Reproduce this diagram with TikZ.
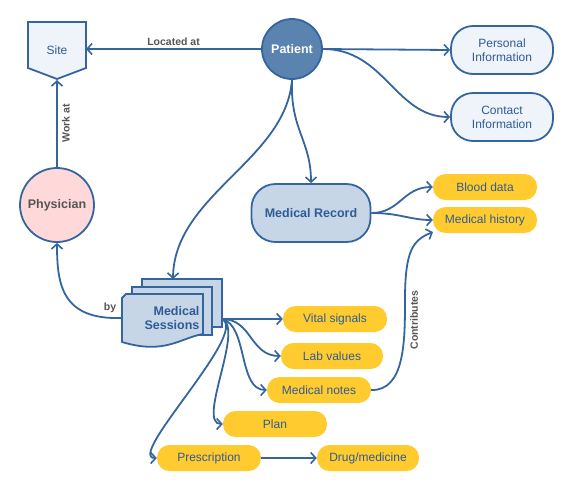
\documentclass[tikz,border=0pt]{standalone}
\usepackage{fontspec}
\setmainfont{Liberation Sans}
\usetikzlibrary{arrows.meta}
\definecolor{ln}{HTML}{34659F}
\definecolor{patfill}{HTML}{5B83B0}
\definecolor{lightfill}{HTML}{EFF3FA}
\definecolor{midfill}{HTML}{C6D6E7}
\definecolor{gold}{HTML}{FFCB2F}
\definecolor{pink}{HTML}{FFD9D9}
\definecolor{txtblue}{HTML}{2F5C94}
\definecolor{txtgray}{HTML}{555555}
\tikzset{
  conn/.style={draw=ln, line width=1.8pt, -{Straight Barb[length=5pt,width=11pt,line width=1.6pt]}},
  pill/.style={fill=gold, rounded corners=12.5pt, minimum width=104pt, minimum height=26pt, inner sep=0pt, text=txtblue, font=\fontsize{12}{14}\selectfont},
  infobox/.style={draw=ln, line width=1.8pt, fill=lightfill, rounded corners=22pt, minimum width=102pt, minimum height=48pt, inner sep=0pt, text=txtblue, align=center, font=\fontsize{12}{14}\selectfont},
  lbl/.style={text=txtgray, font=\bfseries\fontsize{10.5}{12}\selectfont, inner sep=1pt},
  docshape/.style={draw=ln, line width=1.8pt, fill=midfill}
}
\begin{document}
\begin{tikzpicture}[x=1pt,y=-1pt]
\useasboundingbox (0,0) rectangle (573,491);
% Site
\draw[docshape, fill=lightfill] (28,22) -- (86,22) -- (86,68) -- (57,79) -- (28,68) -- cycle;
\node[text=txtblue, font=\fontsize{12}{14}\selectfont] (site) at (57,50) {Site};
\coordinate (siteR) at (86,49);
\coordinate (siteB) at (57,80);
% Patient
\node[circle, draw=ln, line width=1.8pt, fill=patfill, minimum size=60pt, inner sep=0pt, text=white, font=\bfseries\fontsize{12.5}{14}\selectfont] (pat) at (292,49) {Patient};
% Physician
\node[circle, draw=ln, line width=1.8pt, fill=pink, minimum size=74pt, inner sep=0pt, text=txtgray, font=\bfseries\fontsize{12.5}{14}\selectfont] (phy) at (57,205) {Physician};
% info boxes
\node[infobox] (pers) at (502,50) {Personal\\Information};
\node[infobox] (cont) at (502,117) {Contact\\Information};
% Medical record
\node[draw=ln, line width=1.8pt, fill=midfill, rounded corners=24pt, minimum width=119pt, minimum height=58pt, inner sep=0pt, text=txtblue, font=\bfseries\fontsize{12.5}{14}\selectfont] (mr) at (311,213) {Medical Record};
% pills
\node[pill] (blood) at (485,187) {Blood data};
\node[pill] (hist) at (485,220) {Medical history};
\node[pill] (vital) at (335,319) {Vital signals};
\node[pill, minimum width=102pt] (lab) at (332,356) {Lab values};
\node[pill] (notes) at (319,390) {Medical notes};
\node[pill] (plan) at (275,424) {Plan};
\node[pill] (presc) at (209,458) {Prescription};
\node[pill, minimum width=102pt] (drug) at (368,458) {Drug/medicine};
% Medical sessions (multi-document)
\draw[docshape] (142,279) rectangle (222,327);
\draw[docshape] (132,287) rectangle (212,335);
\draw[docshape] (122,298) -- (126,294) -- (203,294) -- (203,334) .. controls (180,338) and (165,355) .. (122,342) -- cycle;
\node[text=txtblue, align=right, font=\bfseries\fontsize{12.5}{14}\selectfont] (ms) at (172,318) {Medical\\Sessions};
\coordinate (msT) at (173,279);
\coordinate (msL) at (122,318);
\coordinate (msR) at (222,319);
% connectors
\draw[conn] (pat.west) -- node[lbl, above=2pt] (locl) {Located at} (siteR);
\draw[conn] (phy.north) -- node[lbl, rotate=90, below=3pt] (workl) {Work at} (siteB);
\draw[conn] (pat.east) -- (pers.west);
\draw[conn] (pat.east) .. controls (385,49) and (395,117) .. (cont.west);
\draw[conn] (pat.south) .. controls (290,130) and (311,140) .. (mr.north);
\draw[conn] (pat.south) .. controls (286,160) and (174,195) .. (msT);
\draw[conn] (msL) .. controls (62,320) and (57,285) .. (phy.south);
\node[lbl] (byl) at (110,308) {by};
\draw[conn] (msR) -- (vital.west);
\draw[conn] (msR) .. controls (252,319) and (250,356) .. (lab.west);
\draw[conn] (msR) .. controls (248,325) and (238,390) .. (notes.west);
\draw[conn] (msR) .. controls (245,328) and (196,424) .. (plan.west);
\draw[conn] (msR) .. controls (250,332) and (125,458) .. (presc.west);
\draw[conn] (presc.east) -- (drug.west);
\draw[conn] (mr.east) .. controls (400,213) and (403,187) .. (blood.west);
\draw[conn] (mr.east) .. controls (400,213) and (410,220) .. (hist.west);
\coordinate (cmid) at (405,300);
\draw[conn] (notes.east) .. controls (405,391) and (405,340) .. (cmid) .. controls (405,250) and (413,240) .. (433,232);
\node[lbl, rotate=90] (contl) at (414,320) {Contributes};
\end{tikzpicture}
\end{document}
